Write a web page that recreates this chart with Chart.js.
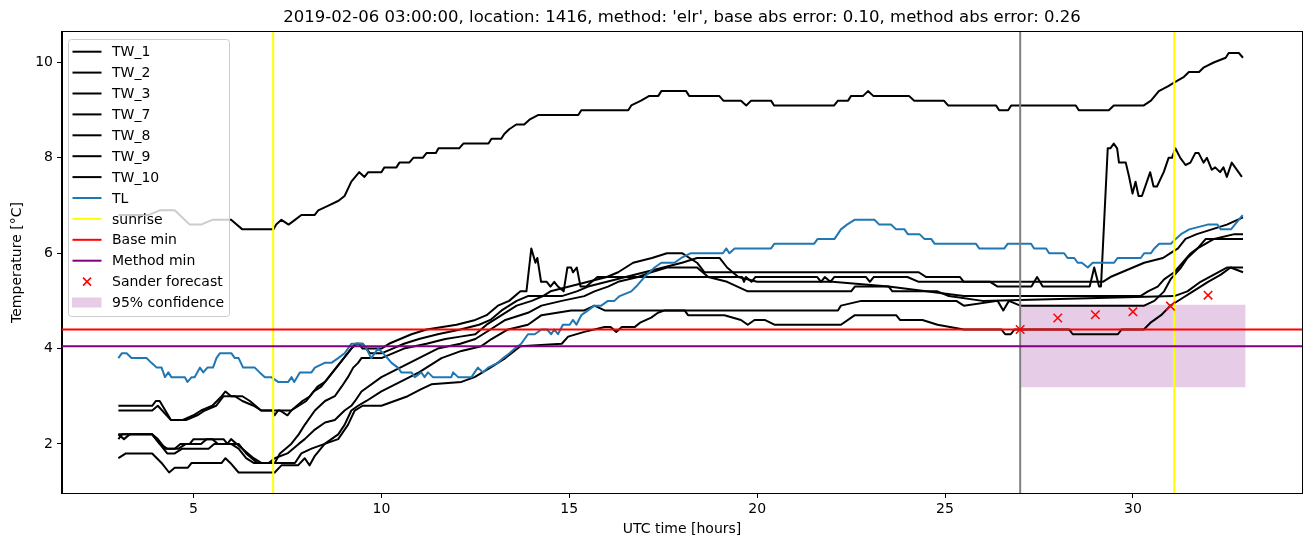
<!DOCTYPE html>
<html>
<head>
<meta charset="utf-8">
<script src="https://cdn.jsdelivr.net/npm/chart.js@4.4.1/dist/chart.umd.min.js"></script>
<style>
  html, body { margin: 0; padding: 0; background: #fff; }
  #chart { display: block; }
</style>
</head>
<body>
<canvas id="chart" width="1310" height="547"></canvas>
<script>
// readings: [hour, temperature]
const tw9 = [[3.0,6.8],[3.8,6.8],[4.1,6.9],[4.5,6.9],[4.9,6.6],[5.2,6.6],[5.5,6.7],[6.0,6.7],[6.3,6.5],[7.13,6.5],[7.2,6.6],[7.34,6.7],[7.53,6.6],[7.7,6.7],[7.87,6.8],[8.22,6.8],[8.32,6.9],[8.59,7.0],[8.86,7.1],[9.02,7.2],[9.2,7.5],[9.41,7.7],[9.55,7.6],[9.65,7.7],[10.0,7.7],[10.08,7.8],[10.4,7.8],[10.48,7.9],[10.74,7.9],[10.85,8.0],[11.1,8.0],[11.2,8.1],[11.45,8.1],[11.52,8.2],[12.07,8.2],[12.18,8.3],[12.85,8.3],[12.93,8.4],[13.19,8.4],[13.27,8.5],[13.4,8.6],[13.59,8.7],[13.8,8.7],[13.94,8.8],[14.18,8.9],[15.24,8.9],[15.32,9.0],[16.57,9.0],[16.65,9.1],[16.91,9.2],[17.13,9.3],[17.37,9.3],[17.45,9.4],[18.11,9.4],[18.19,9.3],[18.99,9.3],[19.1,9.2],[19.57,9.2],[19.71,9.1],[19.84,9.2],[20.37,9.2],[20.45,9.1],[22.05,9.1],[22.15,9.2],[22.42,9.2],[22.5,9.3],[22.82,9.3],[22.95,9.4],[23.09,9.3],[24.04,9.3],[24.18,9.2],[24.97,9.2],[25.08,9.1],[26.36,9.1],[26.44,9.0],[26.68,9.0],[26.76,9.1],[28.48,9.1],[28.56,9.0],[29.36,9.0],[29.49,9.1],[30.29,9.1],[30.48,9.2],[30.69,9.4],[30.93,9.5],[31.14,9.6],[31.36,9.7],[31.49,9.8],[31.76,9.8],[31.89,9.9],[32.15,10.0],[32.47,10.1],[32.55,10.2],[32.82,10.2],[32.93,10.1]];

const tw7 = [[3.0,2.8],[3.9,2.8],[4.0,2.9],[4.1,2.9],[4.4,2.5],[4.7,2.5],[5.0,2.6],[5.2,2.7],[5.5,2.8],[5.75,3.0],[5.85,3.1],[6.0,3.0],[6.3,3.0],[6.5,2.9],[6.8,2.7],[7.1,2.7],[7.16,2.6],[7.25,2.7],[7.6,2.7],[7.75,2.8],[7.9,2.9],[8.1,3.0],[8.3,3.2],[8.5,3.3],[8.7,3.5],[8.9,3.7],[9.1,3.9],[9.3,4.1],[9.4,4.1],[9.5,4.0],[10.0,4.0],[10.2,4.1],[10.5,4.2],[10.8,4.3],[11.2,4.4],[12.0,4.5],[12.5,4.6],[12.8,4.7],[13.1,4.9],[13.4,5.0],[13.7,5.2],[13.86,5.2],[13.99,6.1],[14.1,5.8],[14.15,5.9],[14.25,5.4],[14.4,5.4],[14.5,5.3],[14.6,5.4],[14.7,5.3],[14.85,5.2],[14.95,5.7],[15.05,5.7],[15.1,5.6],[15.2,5.7],[15.3,5.3],[15.45,5.3],[15.6,5.4],[15.75,5.5],[19.6,5.5],[19.65,5.4],[19.7,5.5],[19.85,5.4],[19.95,5.5],[21.6,5.5],[21.7,5.4],[21.8,5.5],[21.95,5.4],[22.05,5.5],[22.9,5.5],[23.0,5.4],[23.1,5.5],[24.0,5.5],[24.3,5.4],[26.2,5.4],[26.4,5.3],[27.3,5.3],[27.45,5.5],[27.6,5.3],[28.85,5.3],[28.97,5.7],[29.1,5.3],[29.15,5.3],[29.33,8.2],[29.4,8.2],[29.49,8.3],[29.58,8.2],[29.63,7.9],[29.81,7.9],[29.9,7.6],[29.99,7.25],[30.07,7.5],[30.15,7.2],[30.24,7.2],[30.46,7.7],[30.55,7.4],[30.64,7.4],[30.82,7.7],[30.95,8.0],[31.04,8.0],[31.13,8.2],[31.26,8.0],[31.4,7.85],[31.53,7.9],[31.66,8.1],[31.75,8.1],[31.88,7.9],[31.97,8.0],[32.1,7.75],[32.19,7.8],[32.32,7.7],[32.41,7.8],[32.5,7.6],[32.63,7.9],[32.9,7.6]];

const tw8 = [[3.0,2.7],[3.9,2.7],[4.05,2.8],[4.4,2.5],[4.8,2.5],[5.1,2.6],[5.3,2.7],[5.6,2.8],[5.8,3.0],[6.1,3.0],[6.3,2.9],[6.6,2.8],[6.8,2.7],[7.3,2.7],[7.5,2.6],[7.6,2.7],[7.8,2.8],[8.0,2.9],[8.2,3.1],[8.4,3.2],[8.6,3.4],[8.8,3.6],[9.0,3.8],[9.2,4.0],[9.35,4.1],[9.5,4.1],[9.7,3.9],[10.0,3.9],[10.3,4.0],[10.6,4.1],[11.0,4.2],[11.5,4.3],[12.1,4.4],[12.6,4.5],[12.9,4.6],[13.2,4.8],[13.6,5.0],[13.9,5.1],[14.3,5.1],[14.5,5.2],[15.0,5.3],[15.5,5.4],[16.0,5.5],[16.3,5.6],[16.7,5.8],[17.2,5.9],[17.6,6.0],[18.0,6.0],[18.2,5.9],[18.4,5.8],[18.6,5.6],[24.3,5.6],[24.5,5.5],[25.4,5.5],[25.5,5.4],[29.2,5.4],[29.4,5.5],[29.7,5.6],[30.0,5.7],[30.3,5.8],[30.8,5.9],[31.0,6.0],[31.2,6.1],[31.4,6.3],[31.7,6.4],[32.1,6.5],[32.5,6.6],[32.93,6.75]];

const tw1 = [[3.0,2.2],[3.9,2.2],[4.05,2.1],[4.25,1.9],[4.5,1.9],[4.65,2.0],[4.9,2.0],[5.0,2.1],[5.5,2.1],[5.65,2.0],[5.9,2.0],[6.0,2.1],[6.15,2.0],[6.3,1.9],[6.45,1.8],[6.6,1.7],[6.8,1.6],[7.16,1.6],[7.3,1.8],[7.6,2.0],[7.8,2.2],[7.96,2.4],[8.23,2.7],[8.5,2.9],[8.76,3.0],[8.94,3.2],[9.11,3.4],[9.25,3.6],[9.38,3.7],[9.47,3.8],[10.0,3.8],[10.3,3.9],[10.6,4.0],[11.2,4.1],[11.7,4.2],[12.1,4.25],[12.5,4.3],[12.8,4.5],[13.2,4.7],[13.6,4.9],[14.0,5.0],[14.3,5.1],[14.8,5.1],[15.2,5.2],[15.5,5.3],[16.0,5.4],[16.5,5.5],[17.0,5.6],[17.5,5.7],[18.0,5.8],[18.4,5.9],[19.0,5.9],[19.2,5.7],[19.5,5.5],[20.0,5.4],[22.0,5.4],[23.5,5.3],[24.5,5.2],[25.5,5.1],[30.2,5.1],[30.4,5.2],[30.66,5.3],[30.83,5.45],[31.1,5.6],[31.32,5.8],[31.54,6.0],[31.72,6.1],[31.94,6.3],[32.93,6.3]];

const tw2 = [[3.0,2.2],[3.15,2.1],[3.3,2.2],[3.9,2.2],[4.1,2.0],[4.3,1.8],[4.5,1.8],[4.7,1.9],[5.4,1.9],[5.55,2.0],[6.0,2.0],[6.2,1.9],[6.4,1.7],[6.6,1.6],[7.0,1.6],[7.16,1.7],[7.5,1.8],[7.8,2.0],[7.96,2.1],[8.23,2.3],[8.5,2.45],[8.76,2.5],[9.02,2.7],[9.2,2.8],[9.3,2.9],[9.47,3.1],[10.0,3.4],[10.5,3.6],[11.0,3.8],[11.5,4.0],[12.1,4.1],[12.5,4.2],[12.9,4.4],[13.3,4.6],[13.9,4.75],[14.26,4.9],[14.8,5.0],[15.4,5.1],[15.67,5.2],[16.03,5.3],[16.3,5.4],[16.83,5.5],[17.18,5.6],[17.6,5.7],[18.4,5.7],[18.7,5.5],[19.2,5.4],[19.75,5.2],[22.5,5.2],[22.6,5.3],[23.5,5.3],[23.6,5.2],[24.8,5.2],[25.1,5.1],[26.0,5.0],[31.1,5.1],[31.45,5.2],[31.8,5.4],[32.5,5.7],[32.93,5.7]];

const tw3 = [[3.0,2.1],[3.1,2.2],[3.9,2.2],[4.1,2.0],[4.3,1.9],[4.6,1.9],[4.8,2.0],[5.2,2.0],[5.35,2.1],[5.8,2.1],[5.9,2.0],[6.2,2.0],[6.4,1.8],[6.7,1.6],[7.7,1.6],[7.87,1.8],[8.14,1.9],[8.49,2.0],[8.85,2.2],[9.02,2.4],[9.2,2.7],[9.38,2.8],[9.6,2.9],[10.0,3.1],[10.5,3.3],[11.0,3.5],[11.6,3.8],[12.13,3.95],[12.66,4.05],[12.93,4.2],[13.37,4.4],[13.9,4.5],[14.26,4.7],[15.05,4.8],[15.4,4.8],[15.67,4.9],[15.94,4.8],[22.15,4.8],[22.23,4.9],[22.77,5.0],[25.3,5.0],[25.5,4.9],[26.4,5.0],[26.55,4.8],[26.7,5.0],[27.0,4.9],[30.3,4.9],[30.57,5.0],[30.83,5.2],[31.0,5.45],[31.28,5.7],[31.45,5.9],[31.72,6.1],[32.16,6.3],[32.7,6.4],[32.93,6.4]];

const tw10 = [[3.0,1.7],[3.2,1.8],[3.9,1.8],[4.15,1.6],[4.35,1.4],[4.5,1.5],[4.85,1.5],[4.95,1.6],[5.75,1.6],[5.85,1.7],[5.98,1.6],[6.2,1.4],[7.16,1.4],[7.34,1.55],[7.78,1.55],[7.96,1.7],[8.09,1.55],[8.23,1.75],[8.49,2.0],[8.85,2.1],[9.11,2.4],[9.29,2.7],[9.5,2.8],[10.0,2.8],[10.35,2.9],[10.7,3.0],[11.06,3.15],[11.33,3.25],[12.13,3.3],[12.48,3.4],[12.9,3.6],[13.3,3.8],[13.7,4.05],[14.8,4.1],[14.97,4.25],[15.4,4.35],[15.94,4.45],[16.1,4.45],[16.25,4.35],[16.4,4.45],[16.74,4.45],[16.9,4.55],[17.18,4.65],[17.36,4.75],[17.54,4.8],[18.07,4.8],[18.16,4.7],[19.13,4.7],[19.57,4.6],[19.75,4.5],[19.93,4.6],[20.2,4.6],[20.46,4.5],[22.23,4.5],[22.6,4.7],[23.7,4.7],[23.8,4.6],[24.4,4.6],[24.8,4.5],[25.5,4.4],[26.5,4.4],[26.6,4.3],[26.75,4.3],[26.85,4.4],[28.3,4.4],[28.4,4.3],[29.6,4.3],[29.7,4.4],[30.29,4.4],[30.48,4.55],[30.75,4.7],[31.0,4.9],[31.3,5.05],[31.6,5.2],[32.0,5.4],[32.34,5.55],[32.6,5.7],[32.93,5.6]];

const tl = [[3.0,3.8],[3.09,3.9],[3.22,3.9],[3.35,3.8],[3.75,3.8],[3.88,3.7],[4.02,3.6],[4.15,3.6],[4.24,3.4],[4.33,3.5],[4.41,3.4],[4.77,3.4],[4.84,3.3],[4.95,3.4],[5.03,3.4],[5.17,3.6],[5.26,3.5],[5.37,3.6],[5.52,3.6],[5.61,3.8],[5.7,3.9],[6.01,3.9],[6.1,3.8],[6.2,3.8],[6.32,3.6],[6.63,3.6],[6.76,3.5],[6.9,3.4],[7.07,3.4],[7.25,3.3],[7.52,3.3],[7.61,3.4],[7.68,3.3],[7.83,3.5],[8.14,3.5],[8.23,3.6],[8.49,3.7],[8.67,3.7],[8.85,3.8],[9.02,3.9],[9.2,4.1],[9.51,4.1],[9.6,4.0],[9.73,3.8],[9.91,4.0],[10.05,3.9],[10.27,3.7],[10.44,3.6],[10.53,3.5],[10.8,3.5],[10.89,3.4],[11.06,3.5],[11.15,3.4],[11.24,3.5],[11.37,3.4],[11.86,3.4],[11.91,3.5],[12.04,3.4],[12.4,3.4],[12.48,3.5],[12.57,3.6],[12.7,3.5],[12.84,3.6],[13.1,3.7],[13.24,3.8],[13.41,3.9],[13.55,4.0],[13.72,4.1],[13.9,4.3],[14.08,4.3],[14.26,4.4],[14.41,4.4],[14.52,4.3],[14.6,4.4],[14.7,4.3],[14.83,4.5],[15.01,4.5],[15.1,4.6],[15.19,4.5],[15.32,4.7],[15.5,4.8],[15.67,4.9],[15.85,4.9],[16.03,5.0],[16.2,5.0],[16.34,5.1],[16.65,5.2],[16.78,5.3],[17.0,5.5],[17.27,5.7],[17.45,5.8],[17.8,5.8],[17.98,5.9],[18.24,6.0],[19.09,6.0],[19.18,6.1],[19.26,6.0],[19.4,6.1],[20.37,6.1],[20.46,6.2],[21.52,6.2],[21.61,6.3],[22.06,6.3],[22.23,6.5],[22.39,6.6],[22.59,6.7],[23.12,6.7],[23.25,6.6],[23.56,6.6],[23.7,6.5],[23.92,6.5],[24.01,6.4],[24.32,6.4],[24.45,6.3],[24.63,6.3],[24.72,6.2],[25.82,6.2],[25.91,6.1],[26.58,6.1],[26.67,6.2],[27.29,6.2],[27.37,6.1],[27.69,6.1],[27.77,6.0],[28.17,6.0],[28.26,5.9],[28.44,5.9],[28.53,5.8],[28.64,5.8],[28.8,5.7],[28.93,5.8],[29.5,5.8],[29.59,5.9],[30.21,5.9],[30.3,6.0],[30.48,6.0],[30.57,6.1],[30.7,6.2],[31.01,6.2],[31.14,6.3],[31.28,6.4],[31.5,6.5],[31.99,6.6],[32.25,6.6],[32.34,6.5],[32.61,6.5],[32.92,6.8]];

const sanderHours = [27, 28, 29, 30, 31, 32];
const sanderTemp = [4.40, 4.64, 4.71, 4.77, 4.89, 5.12];
const sunriseHours = [7.12, 31.1];
const forecastHour = 27;
const baseMin = 4.4;
const methodMin = 4.05;
const confHours = [27, 33];
const confLow = 3.19;
const confHigh = 4.92;

const xTicks = [5, 10, 15, 20, 25, 30];
const yTicks = [2, 4, 6, 8, 10];

const xMin = 1.5, xMax = 34.5;
const yMin = 0.97, yMax = 10.64;

const FONT = "'DejaVu Sans', sans-serif";

function pts(arr) {
  return arr.map((p) => ({ x: p[0], y: p[1] }));
}

function lineSet(label, data, color, order) {
  return {
    type: "line",
    label: label,
    data: data,
    borderColor: color,
    backgroundColor: color,
    borderWidth: 2,
    pointRadius: 0,
    tension: 0,
    fill: false,
    borderJoinStyle: "round",
    order: order,
  };
}

const datasets = [
  {
    type: "line",
    label: "95% confidence",
    data: confHours.map((h) => ({ x: h, y: confHigh })),
    borderColor: "transparent",
    borderWidth: 0,
    pointRadius: 0,
    backgroundColor: "rgba(128,0,128,0.2)",
    fill: { value: confLow },
    order: 20,
  },
  lineSet("TW_1", pts(tw1), "#000000", 10),
  lineSet("TW_2", pts(tw2), "#000000", 10),
  lineSet("TW_3", pts(tw3), "#000000", 10),
  lineSet("TW_7", pts(tw7), "#000000", 10),
  lineSet("TW_8", pts(tw8), "#000000", 10),
  lineSet("TW_9", pts(tw9), "#000000", 10),
  lineSet("TW_10", pts(tw10), "#000000", 10),
  lineSet("TL", pts(tl), "#1f77b4", 8),
  lineSet("forecast", [{ x: forecastHour, y: yMin }, { x: forecastHour, y: yMax }], "#808080", 7),
  lineSet("sunrise", [{ x: sunriseHours[0], y: yMin }, { x: sunriseHours[0], y: yMax }], "#ffff00", 6),
  lineSet("sunrise2", [{ x: sunriseHours[1], y: yMin }, { x: sunriseHours[1], y: yMax }], "#ffff00", 6),
  lineSet("Base min", [{ x: xMin, y: baseMin }, { x: xMax, y: baseMin }], "#ff0000", 5),
  lineSet("Method min", [{ x: xMin, y: methodMin }, { x: xMax, y: methodMin }], "#800080", 4),
  {
    type: "line",
    label: "Sander forecast",
    data: sanderHours.map((h, i) => ({ x: h, y: sanderTemp[i] })),
    showLine: false,
    pointStyle: "crossRot",
    pointRadius: 6,
    pointBorderWidth: 1.5,
    pointBorderColor: "#ff0000",
    borderColor: "#ff0000",
    order: 1,
  },
];

const legendEntries = [
  { label: "TW_1", kind: "line", color: "#000000" },
  { label: "TW_2", kind: "line", color: "#000000" },
  { label: "TW_3", kind: "line", color: "#000000" },
  { label: "TW_7", kind: "line", color: "#000000" },
  { label: "TW_8", kind: "line", color: "#000000" },
  { label: "TW_9", kind: "line", color: "#000000" },
  { label: "TW_10", kind: "line", color: "#000000" },
  { label: "TL", kind: "line", color: "#1f77b4" },
  { label: "sunrise", kind: "line", color: "#ffff00" },
  { label: "Base min", kind: "line", color: "#ff0000" },
  { label: "Method min", kind: "line", color: "#800080" },
  { label: "Sander forecast", kind: "cross", color: "#ff0000" },
  { label: "95% confidence", kind: "patch", color: "rgba(128,0,128,0.2)" },
];

const titleText = "2019-02-06 03:00:00, location: 1416, method: 'elr', base abs error: 0.10, method abs error: 0.26";

const extras = {
  id: "extras",
  afterDraw(chart) {
    const ctx = chart.ctx;
    const a = chart.chartArea;
    ctx.save();
    // frame
    ctx.strokeStyle = "#000";
    ctx.lineWidth = 1;
    ctx.strokeRect(Math.round(a.left) - 0.5, Math.round(a.top) - 0.5, Math.round(a.right - a.left) + 1, Math.round(a.bottom - a.top) + 1);

    // title
    ctx.fillStyle = "#000";
    ctx.font = "16.5px " + FONT;
    ctx.textAlign = "center";
    ctx.textBaseline = "middle";
    ctx.fillText(titleText, (a.left + a.right) / 2, 18);

    // legend
    const bx = 68.5, by = 39.5, bw = 161, bh = 277;
    ctx.beginPath();
    if (ctx.roundRect) ctx.roundRect(bx, by, bw, bh, 3);
    else ctx.rect(bx, by, bw, bh);
    ctx.fillStyle = "rgba(255,255,255,0.8)";
    ctx.fill();
    ctx.strokeStyle = "#cccccc";
    ctx.lineWidth = 1;
    ctx.stroke();

    ctx.font = "14px " + FONT;
    ctx.textAlign = "left";
    legendEntries.forEach((e, i) => {
      const y = 51.7 + i * 20.9;
      if (e.kind === "line") {
        ctx.strokeStyle = e.color;
        ctx.lineWidth = 2;
        ctx.beginPath();
        ctx.moveTo(72.5, y);
        ctx.lineTo(101.5, y);
        ctx.stroke();
      } else if (e.kind === "cross") {
        ctx.strokeStyle = e.color;
        ctx.lineWidth = 1.5;
        ctx.beginPath();
        ctx.moveTo(83, y - 4);
        ctx.lineTo(91, y + 4);
        ctx.moveTo(83, y + 4);
        ctx.lineTo(91, y - 4);
        ctx.stroke();
      } else {
        ctx.fillStyle = e.color;
        ctx.fillRect(72, y - 5, 29.5, 10);
      }
      ctx.fillStyle = "#000";
      ctx.fillText(e.label, 112, y + 1);
    });
    ctx.restore();
  },
};

new Chart(document.getElementById("chart"), {
  data: { datasets: datasets },
  options: {
    responsive: false,
    animation: false,
    devicePixelRatio: 1,
    layout: { padding: { top: 32, right: 8, left: 0, bottom: 0 } },
    plugins: { legend: { display: false }, tooltip: { enabled: false }, title: { display: false } },
    scales: {
      x: {
        type: "linear",
        min: xMin,
        max: xMax,
        afterBuildTicks: (axis) => { axis.ticks = xTicks.map((v) => ({ value: v })); },
        afterFit: (s) => { s.height = 54; },
        grid: { display: true, drawOnChartArea: false, drawTicks: true, tickLength: 5, color: "#000" },
        border: { display: true, color: "#000", width: 1 },
        ticks: { color: "#000", font: { family: FONT, size: 14 }, padding: 3, maxRotation: 0 },
        title: { display: true, text: "UTC time [hours]", color: "#000", font: { family: FONT, size: 14 }, padding: { top: 0, bottom: 9 } },
      },
      y: {
        type: "linear",
        min: yMin,
        max: yMax,
        afterBuildTicks: (axis) => { axis.ticks = yTicks.map((v) => ({ value: v })); },
        afterFit: (s) => { s.width = 62; },
        grid: { display: true, drawOnChartArea: false, drawTicks: true, tickLength: 5, color: "#000" },
        border: { display: true, color: "#000", width: 1 },
        ticks: { color: "#000", font: { family: FONT, size: 14 }, padding: 4 },
        title: { display: true, text: "Temperature [°C]", color: "#000", font: { family: FONT, size: 14 }, padding: { top: 9, bottom: 0 } },
      },
    },
  },
  plugins: [extras],
});
</script>
</body>
</html>
